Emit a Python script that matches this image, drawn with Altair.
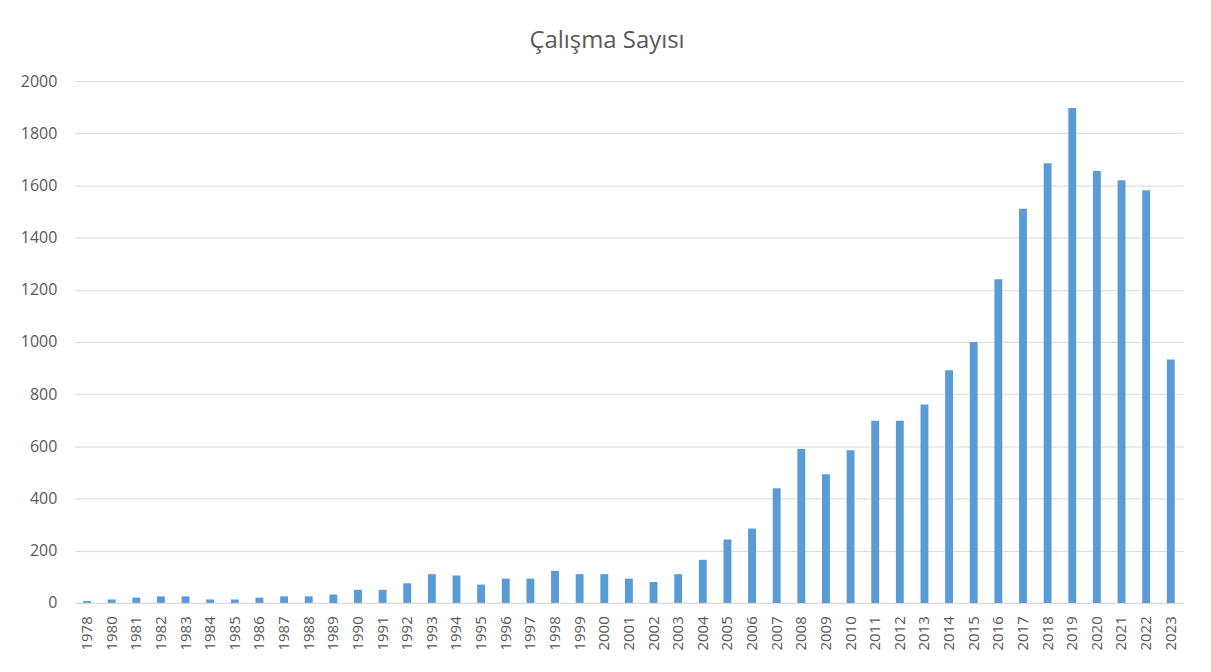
import altair as alt
import pandas as pd

years = ["1978", "1980", "1981", "1982", "1983", "1984", "1985", "1986", "1987", "1988",
         "1989", "1990", "1991", "1992", "1993", "1994", "1995", "1996", "1997", "1998",
         "1999", "2000", "2001", "2002", "2003", "2004", "2005", "2006", "2007", "2008",
         "2009", "2010", "2011", "2012", "2013", "2014", "2015", "2016", "2017", "2018",
         "2019", "2020", "2021", "2022", "2023"]
counts = [7, 13, 20, 25, 25, 13, 13, 20, 25, 25,
          32, 50, 50, 75, 110, 105, 70, 93, 93, 123,
          110, 110, 93, 80, 110, 165, 243, 285, 439, 590,
          493, 585, 698, 698, 760, 892, 1000, 1240, 1511, 1685,
          1897, 1655, 1620, 1582, 933]
y_ticks = [0, 200, 400, 600, 800, 1000, 1200, 1400, 1600, 1800, 2000]

df = pd.DataFrame({"Yıl": years, "Sayı": counts})

FONT = "Open Sans"
GRAY = "#595959"

chart = alt.Chart(df).mark_bar(color="#5b9bd5").encode(
    x=alt.X("Yıl:N", sort=years, title=None,
            scale=alt.Scale(paddingInner=0.68, paddingOuter=0.34),
            axis=alt.Axis(labelAngle=-90, labelAlign="right", labelBaseline="middle",
                          labelPadding=13, ticks=False, domainColor="#d9d9d9", grid=False,
                          labelColor=GRAY, labelFont=FONT, labelFontSize=15)),
    y=alt.Y("Sayı:Q", title=None,
            scale=alt.Scale(domain=[0, 2000], nice=False),
            axis=alt.Axis(values=y_ticks, format="d", ticks=False, domain=False, grid=True,
                          gridColor="#d9d9d9", labelPadding=18,
                          labelColor=GRAY, labelFont=FONT, labelFontSize=16)),
).properties(
    width=1113,
    height=524,
    title=alt.TitleParams("Çalışma Sayısı", font=FONT, fontSize=24, fontWeight="normal",
                          color=GRAY, anchor="middle", dx=-22, offset=20),
    autosize=alt.AutoSizeParams(type="none"),
    padding={"left": 67, "top": 72, "right": 20, "bottom": 60},
    background="white",
).configure_view(stroke=None)

chart.save("out.html", embed_options={"renderer": "svg", "actions": False})
